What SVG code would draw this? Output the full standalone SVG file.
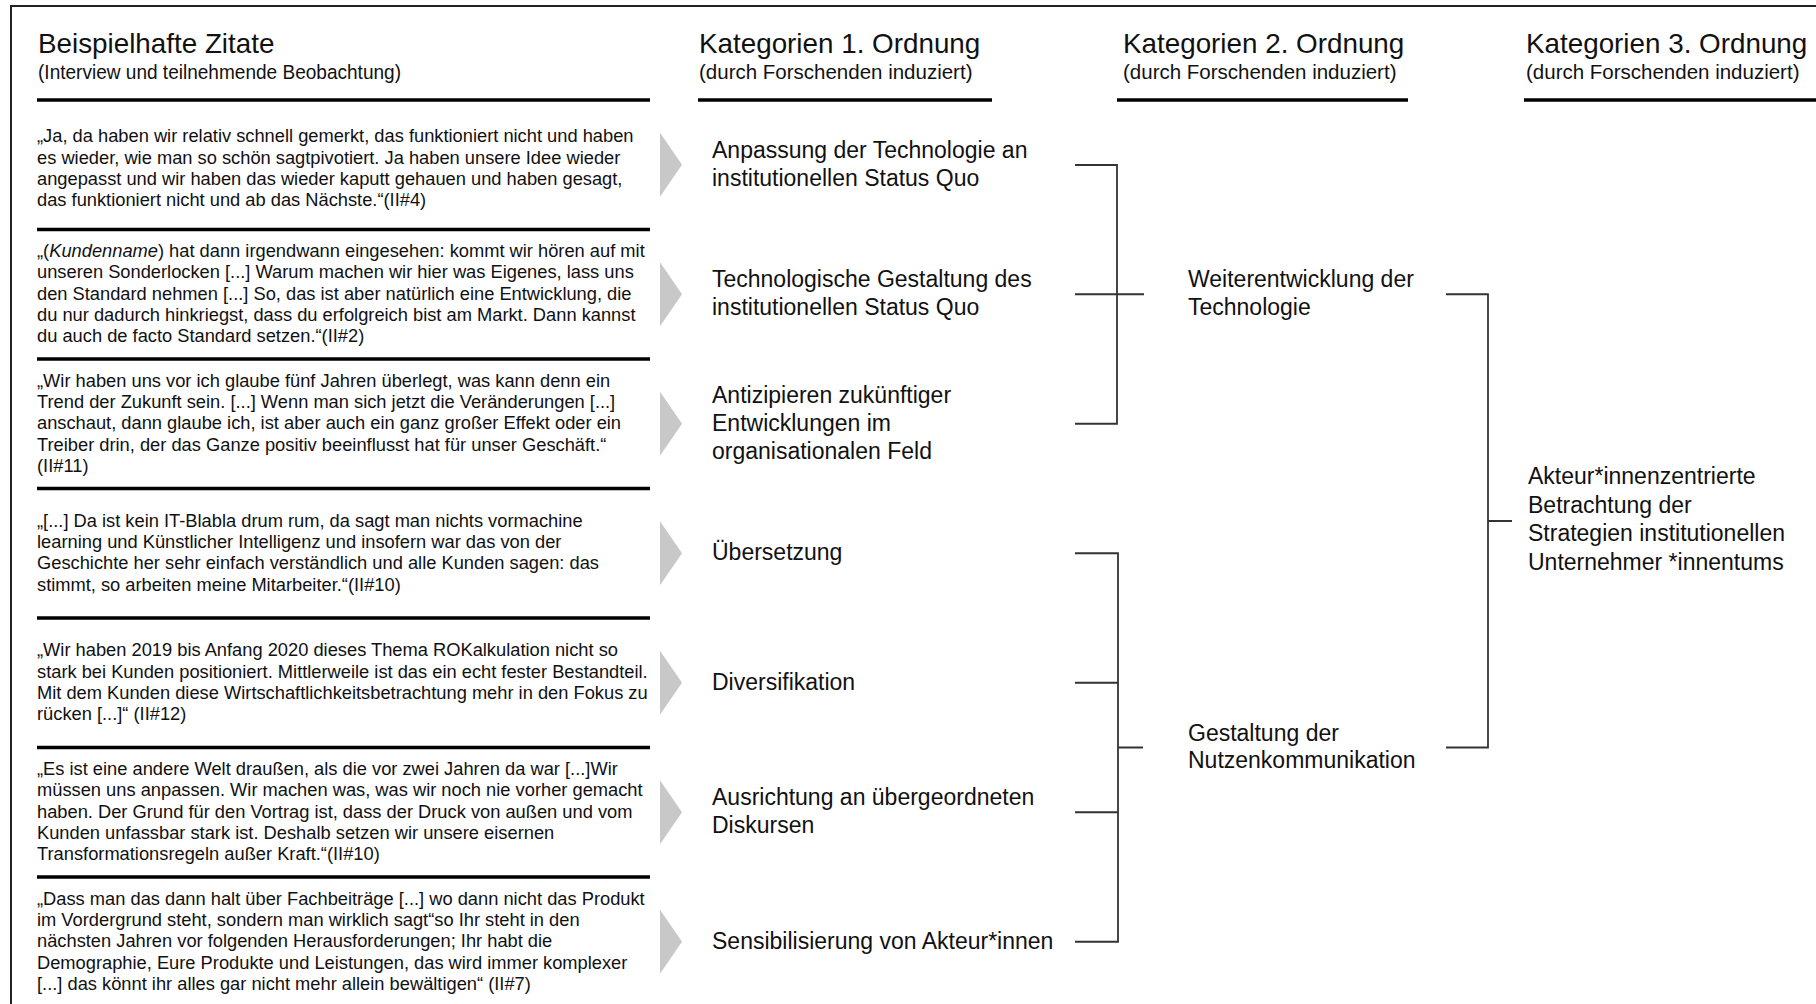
<svg xmlns="http://www.w3.org/2000/svg" width="1816" height="1004" viewBox="0 0 1816 1004">
  <style>
    text { font-family: "Liberation Sans", Arial, sans-serif; fill: #111; }
    .h1 { font-size: 27.8px; }
    .h2 { font-size: 20.5px; }
    .q { font-size: 18.3px; }
    .cat { font-size: 23px; }
    .rule { stroke: #000; stroke-width: 3.5; }
    .link { stroke: #333; stroke-width: 1.8; fill: none; }
    .chev { fill: #c8c8c8; }
  </style>
  <defs>
    <polygon id="chevron" class="chev" points="0,-32 22,0 0,32"/>
  </defs>

  <rect width="1816" height="1004" fill="#fff"/>
  <!-- outer frame (open at right and bottom) -->
  <path d="M11,1004 V6 H1816" fill="none" stroke="#222" stroke-width="2"/>

  <!-- column headers -->
  <g id="header-quotes">
    <text class="h1" x="38" y="53">Beispielhafte Zitate</text>
    <text class="h2" x="38" y="78.5" textLength="363" lengthAdjust="spacingAndGlyphs">(Interview und teilnehmende Beobachtung)</text>
    <line class="rule" x1="37" y1="100" x2="650" y2="100"/>
  </g>
  <g id="header-cat1">
    <text class="h1" x="699" y="53">Kategorien 1. Ordnung</text>
    <text class="h2" x="699" y="78.5">(durch Forschenden induziert)</text>
    <line class="rule" x1="698" y1="100" x2="992" y2="100"/>
  </g>
  <g id="header-cat2">
    <text class="h1" x="1123" y="53">Kategorien 2. Ordnung</text>
    <text class="h2" x="1123" y="78.5">(durch Forschenden induziert)</text>
    <line class="rule" x1="1117" y1="100" x2="1408" y2="100"/>
  </g>
  <g id="header-cat3">
    <text class="h1" x="1526" y="53">Kategorien 3. Ordnung</text>
    <text class="h2" x="1526" y="78.5">(durch Forschenden induziert)</text>
    <line class="rule" x1="1524" y1="100" x2="1816" y2="100"/>
  </g>

  <!-- row separators in the quote column -->
  <g id="quote-rules">
    <line class="rule" x1="37" y1="229.5" x2="650" y2="229.5"/>
    <line class="rule" x1="37" y1="359" x2="650" y2="359"/>
    <line class="rule" x1="37" y1="488.5" x2="650" y2="488.5"/>
    <line class="rule" x1="37" y1="618" x2="650" y2="618"/>
    <line class="rule" x1="37" y1="747.5" x2="650" y2="747.5"/>
    <line class="rule" x1="37" y1="877" x2="650" y2="877"/>
  </g>

  <!-- quotes -->
  <g id="quote-1">
    <text class="q" x="37" y="142.3">
      <tspan x="37">„Ja, da haben wir relativ schnell gemerkt, das funktioniert nicht und haben</tspan>
      <tspan x="37" dy="21.3">es wieder, wie man so schön sagtpivotiert. Ja haben unsere Idee wieder</tspan>
      <tspan x="37" dy="21.3">angepasst und wir haben das wieder kaputt gehauen und haben gesagt,</tspan>
      <tspan x="37" dy="21.3">das funktioniert nicht und ab das Nächste.“(II#4)</tspan>
    </text>
  </g>
  <g id="quote-2">
    <text class="q" x="37" y="257.15">
      <tspan x="37">„(<tspan font-style="italic">Kundenname</tspan>) hat dann irgendwann eingesehen: kommt wir hören auf mit</tspan>
      <tspan x="37" dy="21.3">unseren Sonderlocken [...] Warum machen wir hier was Eigenes, lass uns</tspan>
      <tspan x="37" dy="21.3">den Standard nehmen [...] So, das ist aber natürlich eine Entwicklung, die</tspan>
      <tspan x="37" dy="21.3">du nur dadurch hinkriegst, dass du erfolgreich bist am Markt. Dann kannst</tspan>
      <tspan x="37" dy="21.3">du auch de facto Standard setzen.“(II#2)</tspan>
    </text>
  </g>
  <g id="quote-3">
    <text class="q" x="37" y="386.65">
      <tspan x="37">„Wir haben uns vor ich glaube fünf Jahren überlegt, was kann denn ein</tspan>
      <tspan x="37" dy="21.3">Trend der Zukunft sein. [...] Wenn man sich jetzt die Veränderungen [...]</tspan>
      <tspan x="37" dy="21.3">anschaut, dann glaube ich, ist aber auch ein ganz großer Effekt oder ein</tspan>
      <tspan x="37" dy="21.3">Treiber drin, der das Ganze positiv beeinflusst hat für unser Geschäft.“</tspan>
      <tspan x="37" dy="21.3">(II#11)</tspan>
    </text>
  </g>
  <g id="quote-4">
    <text class="q" x="37" y="526.8">
      <tspan x="37">„[...]  Da ist kein IT-Blabla drum rum, da sagt man nichts vormachine</tspan>
      <tspan x="37" dy="21.3">learning und Künstlicher Intelligenz und insofern war das von der</tspan>
      <tspan x="37" dy="21.3">Geschichte her sehr einfach verständlich und alle Kunden sagen: das</tspan>
      <tspan x="37" dy="21.3">stimmt, so arbeiten meine Mitarbeiter.“(II#10)</tspan>
    </text>
  </g>
  <g id="quote-5">
    <text class="q" x="37" y="656.3">
      <tspan x="37">„Wir haben 2019 bis Anfang 2020 dieses Thema ROKalkulation nicht so</tspan>
      <tspan x="37" dy="21.3">stark bei Kunden positioniert. Mittlerweile ist das ein echt fester Bestandteil.</tspan>
      <tspan x="37" dy="21.3">Mit dem Kunden diese Wirtschaftlichkeitsbetrachtung mehr in den Fokus zu</tspan>
      <tspan x="37" dy="21.3">rücken [...]“ (II#12)</tspan>
    </text>
  </g>
  <g id="quote-6">
    <text class="q" x="37" y="775.15">
      <tspan x="37">„Es ist eine andere Welt draußen, als die vor zwei Jahren da war [...]Wir</tspan>
      <tspan x="37" dy="21.3">müssen uns anpassen. Wir machen was, was wir noch nie vorher gemacht</tspan>
      <tspan x="37" dy="21.3">haben. Der Grund für den Vortrag ist, dass der Druck von außen und vom</tspan>
      <tspan x="37" dy="21.3">Kunden unfassbar stark ist. Deshalb setzen wir unsere eisernen</tspan>
      <tspan x="37" dy="21.3">Transformationsregeln außer Kraft.“(II#10)</tspan>
    </text>
  </g>
  <g id="quote-7">
    <text class="q" x="37" y="904.65">
      <tspan x="37">„Dass man das dann halt über Fachbeiträge [...] wo dann nicht das Produkt</tspan>
      <tspan x="37" dy="21.3">im Vordergrund steht, sondern man wirklich sagt“so Ihr steht in den</tspan>
      <tspan x="37" dy="21.3">nächsten Jahren vor folgenden Herausforderungen; Ihr habt die</tspan>
      <tspan x="37" dy="21.3">Demographie, Eure Produkte und Leistungen, das wird immer komplexer</tspan>
      <tspan x="37" dy="21.3">[...] das könnt ihr alles gar nicht mehr allein bewältigen“ (II#7)</tspan>
    </text>
  </g>

  <!-- arrows from quotes to first-order categories -->
  <g id="chevrons">
    <use href="#chevron" x="660" y="164.75"/>
    <use href="#chevron" x="660" y="294.25"/>
    <use href="#chevron" x="660" y="423.75"/>
    <use href="#chevron" x="660" y="553.25"/>
    <use href="#chevron" x="660" y="682.75"/>
    <use href="#chevron" x="660" y="812.25"/>
    <use href="#chevron" x="660" y="941.75"/>
  </g>

  <!-- first-order categories -->
  <g id="cat1-anpassung">
    <text class="cat" x="712" y="157.85"><tspan x="712">Anpassung der Technologie an</tspan><tspan x="712" dy="27.8">institutionellen Status Quo</tspan></text>
  </g>
  <g id="cat1-gestaltung">
    <text class="cat" x="712" y="287.35"><tspan x="712">Technologische Gestaltung des</tspan><tspan x="712" dy="27.8">institutionellen Status Quo</tspan></text>
  </g>
  <g id="cat1-antizipieren">
    <text class="cat" x="712" y="402.95"><tspan x="712">Antizipieren zukünftiger</tspan><tspan x="712" dy="27.8">Entwicklungen im</tspan><tspan x="712" dy="27.8">organisationalen Feld</tspan></text>
  </g>
  <g id="cat1-uebersetzung">
    <text class="cat" x="712" y="560.25">Übersetzung</text>
  </g>
  <g id="cat1-diversifikation">
    <text class="cat" x="712" y="689.75">Diversifikation</text>
  </g>
  <g id="cat1-ausrichtung">
    <text class="cat" x="712" y="805.35"><tspan x="712">Ausrichtung an übergeordneten</tspan><tspan x="712" dy="27.8">Diskursen</tspan></text>
  </g>
  <g id="cat1-sensibilisierung">
    <text class="cat" x="712" y="948.75">Sensibilisierung von Akteur*innen</text>
  </g>

  <!-- second-order categories -->
  <g id="cat2-weiterentwicklung">
    <text class="cat" x="1188" y="287.35"><tspan x="1188">Weiterentwicklung der</tspan><tspan x="1188" dy="27.8">Technologie</tspan></text>
  </g>
  <g id="cat2-nutzenkommunikation">
    <text class="cat" x="1188" y="740.6"><tspan x="1188">Gestaltung der</tspan><tspan x="1188" dy="27.8">Nutzenkommunikation</tspan></text>
  </g>

  <!-- third-order category -->
  <g id="cat3-akteurzentriert">
    <text class="cat" x="1528" y="484.25"><tspan x="1528">Akteur*innenzentrierte</tspan><tspan x="1528" dy="28.5">Betrachtung der</tspan><tspan x="1528" dy="28.5">Strategien institutionellen</tspan><tspan x="1528" dy="28.5">Unternehmer *innentums</tspan></text>
  </g>

  <!-- bracket connectors -->
  <g id="connectors">
    <path class="link" d="M1075,165 H1117 V423.75 H1075 M1075,294.25 H1144"/>
    <path class="link" d="M1075,553.25 H1118 V941.75 H1075 M1075,682.75 H1118 M1075,812.25 H1118 M1118,747.5 H1143"/>
    <path class="link" d="M1446,294.25 H1488 V747.5 H1446 M1488,521 H1512"/>
  </g>
</svg>
